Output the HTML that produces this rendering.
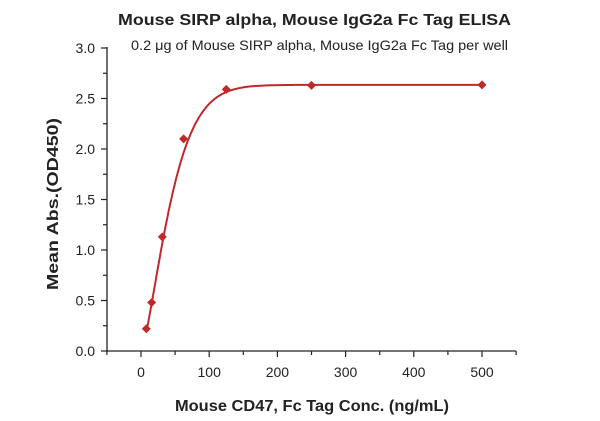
<!DOCTYPE html>
<html><head><meta charset="utf-8"><style>
body{margin:0;background:#fff;}
svg{display:block;font-family:"Liberation Sans","DejaVu Sans",sans-serif;}
</style></head><body>
<svg id="s" width="600" height="421" viewBox="0 0 600 421">
<text x="118" y="25" textLength="393" lengthAdjust="spacingAndGlyphs" font-size="16" font-weight="bold" fill="#222">Mouse SIRP alpha, Mouse IgG2a Fc Tag ELISA</text>
<text x="131" y="50" textLength="377" lengthAdjust="spacingAndGlyphs" font-size="14" fill="#222">0.2 μg of Mouse SIRP alpha, Mouse IgG2a Fc Tag per well</text>
<g stroke="#222" stroke-width="1.3" fill="none">
<line x1="107" y1="47" x2="107" y2="352"/>
<line x1="106" y1="351" x2="516" y2="351"/>
</g>
<g id="ticks" stroke="#222" stroke-width="1.2"></g>
<g font-size="14" fill="#222" text-anchor="end" id="yl"></g>
<g font-size="14" fill="#222" text-anchor="middle" id="xl"></g>
<text transform="translate(58,204) rotate(-90)" text-anchor="middle" textLength="172" lengthAdjust="spacingAndGlyphs" font-size="16" font-weight="bold" fill="#222">Mean Abs.(OD450)</text>
<text x="175" y="411" textLength="274" lengthAdjust="spacingAndGlyphs" font-size="16" font-weight="bold" fill="#222">Mouse CD47, Fc Tag Conc. (ng/mL)</text>
<path id="curve" fill="none" stroke="#c0292b" stroke-width="2"/>
<g id="pts" fill="#c0292b"></g>
</svg>
<script>
var X=function(v){return 141+v*0.682;},Y=function(v){return 351-v*101;};
var t='',yl='',xl='';
for(var i=0;i<=12;i++){var y=Y(i*0.25);t+='<line x1="'+(i%2?103:101)+'" y1="'+y+'" x2="107" y2="'+y+'"/>';
if(i%2==0)yl+='<text x="95" y="'+(y+5)+'">'+(i*0.25).toFixed(1)+'</text>';}
for(var v=-50;v<=550;v+=50){var x=X(v);t+='<line x1="'+x+'" y1="351" x2="'+x+'" y2="'+(v%100==0?357:355)+'"/>';
if(v>=0&&v<=500&&v%100==0)xl+='<text x="'+x+'" y="377">'+v+'</text>';}
document.getElementById('ticks').innerHTML=t;
document.getElementById('yl').innerHTML=yl;
document.getElementById('xl').innerHTML=xl;
var d='';
for(var v=7.8;v<=500;v+=(v<150?1:5)){var f=2.635*(1-Math.exp(-Math.pow(v/50,1.4)));d+=(d?'L':'M')+X(v).toFixed(1)+','+Y(f).toFixed(1);}
document.getElementById('curve').setAttribute('d',d);
var P=[[7.8,0.22],[15.6,0.48],[31.25,1.13],[62.5,2.1],[125,2.59],[250,2.63],[500,2.635]],p='';
P.forEach(function(q){var x=X(q[0]),y=Y(q[1]);p+='<path d="M'+x+','+(y-4.5)+'L'+(x+4.5)+','+y+'L'+x+','+(y+4.5)+'L'+(x-4.5)+','+y+'Z"/>';});
document.getElementById('pts').innerHTML=p;
</script>
</body></html>
